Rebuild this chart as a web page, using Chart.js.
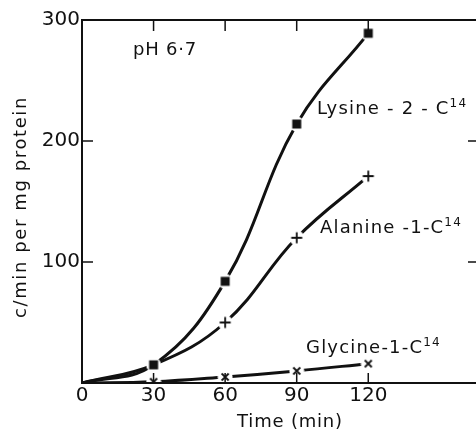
<!DOCTYPE html>
<html>
<head>
<meta charset="utf-8">
<script src="https://cdn.jsdelivr.net/npm/chart.js@4/dist/chart.umd.min.js"></script>
<style>
  html, body { margin: 0; padding: 0; background: #fff; overflow: hidden; }
  #wrap { width: 486px; height: 432px; }
</style>
</head>
<body>
<div id="wrap"><canvas id="myChart" width="486" height="432"></canvas></div>
<script>
const times = [0, 30, 60, 90, 120];
const lysine = [0, 15, 84, 214, 289];
const alanine = [0, 15, 50, 120, 171];
const glycine = [0, 1, 5, 10, 16];
const xTicks = [0, 30, 60, 90, 120];
const yTicks = [0, 100, 200, 300];

const FONT = '"DejaVu Sans", sans-serif';
const INK = '#111';

// marker images: black symbol on a white disc so the curve breaks around it
function makeMarker(kind) {
    const c = document.createElement('canvas');
    c.width = 16;
    c.height = 16;
    const g = c.getContext('2d');
    g.fillStyle = '#fff';
    g.beginPath();
    g.arc(8, 8, 7.5, 0, Math.PI * 2);
    g.fill();
    g.fillStyle = INK;
    g.strokeStyle = INK;
    g.lineWidth = 1.8;
    if (kind === 'square') {
        g.fillRect(3.5, 3.5, 9, 9);
    } else if (kind === 'plus') {
        g.beginPath();
        g.moveTo(8, 2.5); g.lineTo(8, 13.5);
        g.moveTo(2.5, 8); g.lineTo(13.5, 8);
        g.stroke();
    } else {
        g.beginPath();
        g.moveTo(4.5, 4.5); g.lineTo(11.5, 11.5);
        g.moveTo(11.5, 4.5); g.lineTo(4.5, 11.5);
        g.stroke();
    }
    return c;
}

function toPoints(values) {
    return values.map((v, i) => ({x: times[i], y: v}));
}

function series(label, values, kind, radii) {
    return {
        label: label,
        data: toPoints(values),
        borderColor: INK,
        borderWidth: 3,
        tension: 0.4,
        fill: false,
        pointStyle: makeMarker(kind),
        pointRadius: radii,
        pointHoverRadius: radii
    };
}

// frame, inward ticks and the text written on the plot
const decorations = {
    id: 'decorations',
    afterDraw(chart) {
        const c = chart.ctx;
        const a = chart.chartArea;
        const xs = chart.scales.x;
        const ys = chart.scales.y;
        c.save();
        c.strokeStyle = INK;
        c.lineWidth = 2;
        c.strokeRect(a.left, a.top, a.right - a.left, a.bottom - a.top);
        c.lineWidth = 1.5;
        c.beginPath();
        xTicks.slice(1).forEach(t => {
            const px = xs.getPixelForValue(t);
            c.moveTo(px, a.bottom); c.lineTo(px, a.bottom - 10);
            c.moveTo(px, a.top); c.lineTo(px, a.top + 11);
        });
        yTicks.slice(1, 3).forEach(t => {
            const py = ys.getPixelForValue(t);
            c.moveTo(a.left, py); c.lineTo(a.left + 11, py);
            c.moveTo(a.right, py); c.lineTo(a.right - 10, py);
        });
        c.stroke();

        c.fillStyle = INK;
        c.textBaseline = 'alphabetic';
        c.textAlign = 'left';
        c.letterSpacing = '0.8px';
        c.font = '18px ' + FONT;
        c.fillText('pH 6\u00b77', 133, 55);

        const labels = [
            ['Lysine - 2 - C', 317, 114],
            ['Alanine -1-C', 320, 233],
            ['Glycine-1-C', 306, 353]
        ];
        c.letterSpacing = '1.2px';
        labels.forEach(([txt, x, y]) => {
            c.font = '18px ' + FONT;
            c.fillText(txt, x, y);
            const w = c.measureText(txt).width;
            c.font = '12px ' + FONT;
            c.fillText('14', x + w, y - 7);
        });

        c.letterSpacing = '0.8px';
        c.font = '18px ' + FONT;
        c.textAlign = 'center';
        c.fillText('Time (min)', 290, 427);

        // y axis title, rotated
        c.save();
        c.translate(26, 207);
        c.rotate(-Math.PI / 2);
        c.letterSpacing = '1.6px';
        c.font = '18px ' + FONT;
        c.fillText('c/min per mg protein', 0, 0);
        c.restore();
        c.restore();
    }
};

const ctx = document.getElementById('myChart').getContext('2d');

const chart = new Chart(ctx, {
    type: 'line',
    data: {
        datasets: [
            series('Lysine-2-C14', lysine, 'square', [0, 5, 5, 5, 5]),
            series('Alanine-1-C14', alanine, 'plus', [0, 0, 5, 5, 5]),
            series('Glycine-1-C14', glycine, 'cross', [0, 5, 5, 5, 5])
        ]
    },
    options: {
        responsive: false,
        animation: false,
        layout: {padding: {top: 20, right: 2, left: 0, bottom: 0}},
        plugins: {
            legend: {display: false},
            tooltip: {enabled: false}
        },
        scales: {
            x: {
                type: 'linear',
                min: 0,
                max: 166,
                afterBuildTicks: (scale) => {
                    scale.ticks = xTicks.map(v => ({value: v}));
                },
                afterFit: (scale) => {
                    scale.height = 49;
                    scale.paddingLeft = 0;
                    scale.paddingRight = 0;
                },
                grid: {display: false, drawTicks: false},
                border: {display: false},
                ticks: {
                    padding: 1,
                    color: INK,
                    font: {family: FONT, size: 20},
                    maxRotation: 0
                }
            },
            y: {
                min: 0,
                max: 300,
                afterBuildTicks: (scale) => {
                    scale.ticks = yTicks.map(v => ({value: v}));
                },
                afterFit: (scale) => {
                    scale.width = 82;
                    scale.paddingTop = 0;
                    scale.paddingBottom = 0;
                },
                grid: {display: false, drawTicks: false},
                border: {display: false},
                ticks: {
                    padding: 2,
                    color: INK,
                    font: {family: FONT, size: 20},
                    callback: (v) => v === 0 ? '' : v
                }
            }
        }
    },
    plugins: [decorations]
});
</script>
</body>
</html>
